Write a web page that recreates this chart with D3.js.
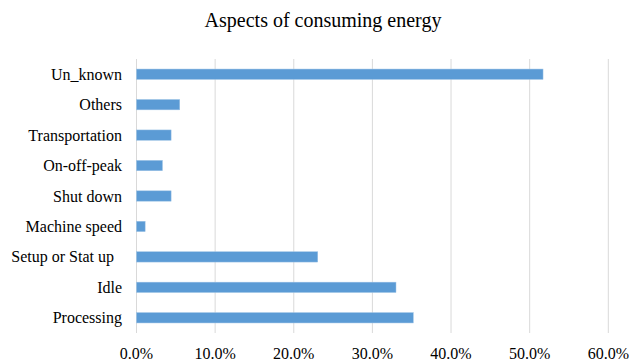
<!DOCTYPE html>
<html>
<head>
<meta charset="utf-8">
<script src="https://cdn.jsdelivr.net/npm/d3@7"></script>
<style>
  body { margin: 0; background: #fff; }
</style>
</head>
<body>
<div class="canvas"></div>
<script>
// data (top to bottom as drawn)
const categories = ['Un_known', 'Others', 'Transportation', 'On-off-peak', 'Shut down',
                    'Machine speed', 'Setup or Stat up  ', 'Idle', 'Processing'];
const values = [0.517, 0.055, 0.044, 0.033, 0.044, 0.011, 0.2305, 0.330, 0.352];
const xTicks = [0, 0.1, 0.2, 0.3, 0.4, 0.5, 0.6];

const dims = { width: 629, height: 361 };
const plot = { left: 136.5, right: 608.3, top: 59, bottom: 333 };
const serif = "'Liberation Serif'";

const svg = d3.select('.canvas')
                .append('svg')
                .attr('width', dims.width)
                .attr('height', dims.height);

const x = d3.scaleLinear()
            .domain([0, 0.6])
            .range([plot.left, plot.right]);

const y = d3.scaleBand()
            .domain(categories)
            .range([plot.top, plot.bottom])
            .paddingInner(0.66)
            .paddingOuter(0.33);

// gridlines
svg.append('g')
    .selectAll('line')
    .data(xTicks)
    .enter()
    .append('line')
        .attr('x1', d => x(d))
        .attr('x2', d => x(d))
        .attr('y1', plot.top)
        .attr('y2', plot.bottom)
        .attr('stroke', '#d9d9d9')
        .attr('stroke-width', 1);

// bars
svg.append('g')
    .selectAll('rect')
    .data(values)
    .enter()
    .append('rect')
        .attr('x', x(0))
        .attr('y', (d, i) => y(categories[i]))
        .attr('width', d => x(d) - x(0))
        .attr('height', y.bandwidth())
        .attr('fill', '#5b9bd5')
        .attr('stroke', '#9dc3e6')
        .attr('stroke-width', 0.5);

// category labels
svg.append('g')
    .selectAll('text')
    .data(categories)
    .enter()
    .append('text')
        .attr('x', 122)
        .attr('y', d => y(d) + y.bandwidth() / 2)
        .attr('dy', '0.35em')
        .attr('text-anchor', 'end')
        .style('white-space', 'pre')
        .style('font-family', serif)
        .style('font-size', '16px')
        .text(d => d);

// x axis labels
const fmt = d3.format('.1%');
svg.append('g')
    .selectAll('text')
    .data(xTicks)
    .enter()
    .append('text')
        .attr('x', d => x(d))
        .attr('y', 353)
        .attr('dy', '0.35em')
        .attr('text-anchor', 'middle')
        .style('font-family', serif)
        .style('font-size', '16px')
        .text(d => fmt(d));

// title
svg.append('text')
    .attr('x', 323)
    .attr('y', 20)
    .attr('dy', '0.35em')
    .attr('text-anchor', 'middle')
    .style('font-family', serif)
    .style('font-size', '20px')
    .text('Aspects of consuming energy');
</script>
</body>
</html>
